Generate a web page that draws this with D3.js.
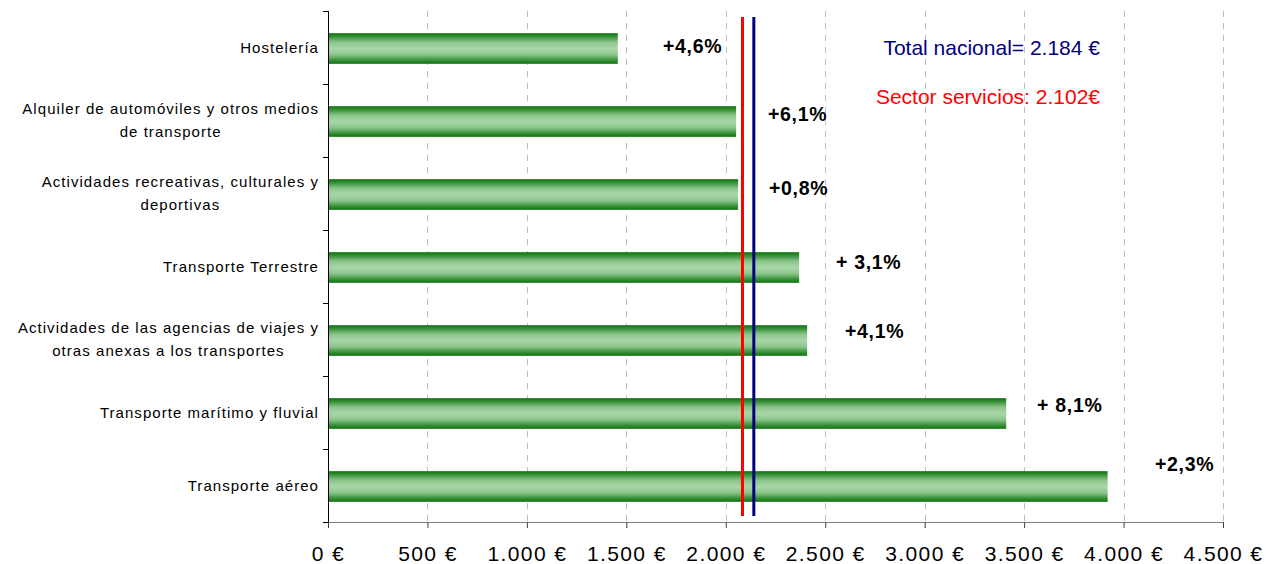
<!DOCTYPE html>
<html><head><meta charset="utf-8">
<script src="https://cdn.jsdelivr.net/npm/d3@7"></script>
<style>body{margin:0;background:#fff;font-family:"Liberation Sans",Arial,sans-serif;}</style>
</head><body>
<svg id="c" width="1267" height="564"></svg>
<script>
const categories = [
  ["Hostelería"],
  ["Alquiler de automóviles y otros medios", "de transporte"],
  ["Actividades recreativas, culturales y", "deportivas"],
  ["Transporte Terrestre"],
  ["Actividades de las agencias de viajes y", "otras anexas a los transportes"],
  ["Transporte marítimo y fluvial"],
  ["Transporte aéreo"]
];
const values = [1457, 2052, 2062, 2369, 2409, 3410, 3920];
const changeLabels = ["+4,6%", "+6,1%", "+0,8%", "+ 3,1%", "+4,1%", "+ 8,1%", "+2,3%"];
const tickValues = [0, 500, 1000, 1500, 2000, 2500, 3000, 3500, 4000, 4500];
const tickLabels = ["0 €", "500 €", "1.000 €", "1.500 €", "2.000 €", "2.500 €", "3.000 €", "3.500 €", "4.000 €", "4.500 €"];
const refLines = [
  {name: "Sector servicios: 2.102€", value: 2084},
  {name: "Total nacional= 2.184 €", value: 2141}
];
// label anchor layout (left edge in € along x and px shift in y)
const labelX = [1684, 2212, 2217, 2554, 2599, 3565, 4158];
const labelDy = [-1, -6, -5, -4, -8, -7, -21];

const svg = d3.select("#c");
const L = 328, R = 1223, T = 11, B = 522;
const x = d3.scaleLinear().domain([0, 4500]).range([L, R]);
const y = d3.scaleBand().domain(d3.range(categories.length)).range([T, B]).paddingInner(0.58).paddingOuter(0.29);
const yb = d3.scaleBand().domain(d3.range(categories.length)).range([T, B]);

const defs = svg.append("defs");
const g = defs.append("linearGradient").attr("id","bg").attr("x1",0).attr("x2",0).attr("y1",0).attr("y2",1);
[[0,"#0b730b"],[0.12,"#3a913a"],[0.3,"#8cc68c"],[0.5,"#a9d6a9"],[0.7,"#8cc68c"],[0.88,"#3a913a"],[1,"#0b730b"]]
  .forEach(s => g.append("stop").attr("offset", s[0]).attr("stop-color", s[1]));

// gridlines
svg.append("g").selectAll("line").data(tickValues.slice(1)).join("line")
  .attr("x1", d => Math.round(x(d)) + 0.5).attr("x2", d => Math.round(x(d)) + 0.5)
  .attr("y1", T).attr("y2", B)
  .attr("stroke", "#c0c0c0").attr("stroke-dasharray", "6,6");

// bars
svg.append("g").selectAll("rect").data(values).join("rect")
  .attr("x", x(0)).attr("y", (d,i) => y(i) + 1).attr("width", d => x(d) - x(0))
  .attr("height", y.bandwidth()).attr("fill", "url(#bg)");

// x axis
const xa = svg.append("g").attr("transform", `translate(0,${B})`)
  .call(d3.axisBottom(x).tickValues(tickValues).tickFormat((d,i) => tickLabels[i]).tickSize(6).tickSizeOuter(0));
xa.select(".domain").attr("stroke", "#808080");
xa.selectAll(".tick line").attr("stroke", "#404040");
xa.selectAll(".tick text").attr("font-family", "Liberation Sans, Arial, sans-serif").attr("font-size", 21)
  .attr("letter-spacing", "1.4px").attr("fill", "#000").attr("y", 24);

// y axis line with tick marks between categories
svg.append("line").attr("x1", L+0.5).attr("x2", L+0.5).attr("y1", T).attr("y2", B).attr("stroke", "#000");
svg.append("g").selectAll("line").data(d3.range(categories.length + 1)).join("line")
  .attr("x1", L - 5).attr("x2", L)
  .attr("y1", i => Math.round(T + i * yb.bandwidth()) + 0.5).attr("y2", i => Math.round(T + i * yb.bandwidth()) + 0.5)
  .attr("stroke", "#000");

// category labels
const cl = svg.append("g").attr("font-size", 15).attr("letter-spacing", "1.05px").attr("fill", "#000");
categories.forEach((lines, i) => {
  const cy = yb(i) + yb.bandwidth() / 2;
  const t = cl.append("text").attr("text-anchor", "middle");
  const lh = 23;
  lines.forEach((ln, j) => {
    t.append("tspan").attr("x", 0).attr("y", cy + (j - (lines.length - 1) / 2) * lh).attr("dy", "0.35em").text(ln);
  });
  let w = 0;
  t.selectAll("tspan").each(function(){ w = Math.max(w, this.getComputedTextLength()); });
  t.selectAll("tspan").attr("x", 319 - w / 2);
});

// reference lines
const colors = ["#ff0000", "#000080"];
svg.append("g").selectAll("line").data(refLines).join("line")
  .attr("x1", d => x(d.value)).attr("x2", d => x(d.value))
  .attr("y1", 17).attr("y2", 516)
  .attr("stroke", (d,i) => colors[i]).attr("stroke-width", 3);

// change labels
svg.append("g").selectAll("text").data(changeLabels).join("text")
  .attr("x", (d,i) => x(labelX[i])).attr("y", (d,i) => yb(i) + yb.bandwidth()/2 + labelDy[i])
  .attr("dy", "0.35em").attr("text-anchor", "start").attr("letter-spacing", "0.7px")
  .attr("font-size", 19.5).attr("font-weight", "bold").attr("fill", "#000").text(d => d);

// legend texts
svg.append("text").attr("x", 1100).attr("y", 48).attr("dy", "0.35em").attr("text-anchor", "end")
  .attr("font-size", 21).attr("fill", "#000080").text(refLines[1].name);
svg.append("text").attr("x", 1100).attr("y", 97).attr("dy", "0.35em").attr("text-anchor", "end")
  .attr("font-size", 21).attr("fill", "#ff0000").text(refLines[0].name);
</script>
</body></html>
